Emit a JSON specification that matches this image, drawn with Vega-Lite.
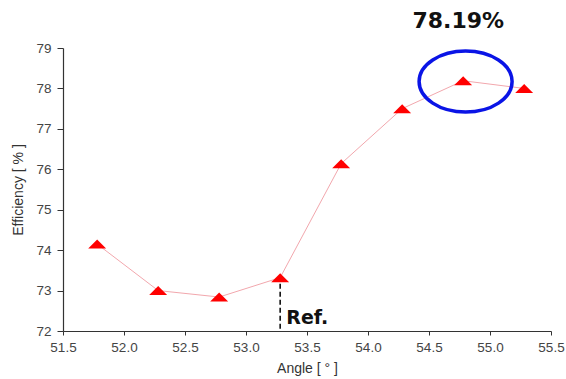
{
  "$schema": "https://vega.github.io/schema/vega-lite/v6.json",
  "autosize": "none",
  "width": 488,
  "height": 283,
  "padding": {"left": 63, "top": 48, "right": 15, "bottom": 48},
  "background": "white",
  "config": {"view": {"stroke": null}, "font": "Liberation Sans"},
  "datasets": {
    "pts": [
      {"angle": 51.78, "eff": 74.15},
      {"angle": 52.28, "eff": 73.0},
      {"angle": 52.78, "eff": 72.84},
      {"angle": 53.28, "eff": 73.32},
      {"angle": 53.78, "eff": 76.14},
      {"angle": 54.28, "eff": 77.5},
      {"angle": 54.78, "eff": 78.19},
      {"angle": 55.28, "eff": 78.0}
    ],
    "refline": [{"angle": 53.28, "y1": 73.17, "y2": 72.0}],
    "reftext": [{"angle": 53.33, "eff": 72.18, "label": "Ref."}],
    "toptext": [{"angle": 54.74, "eff": 79.5, "label": "78.19%"}],
    "circle": [{"angle": 54.8, "eff": 78.17}]
  },
  "layer": [
    {
      "data": {"name": "pts"},
      "mark": {"type": "line", "color": "#f2a7ad", "strokeWidth": 1},
      "encoding": {
        "x": {
          "field": "angle", "type": "quantitative",
          "scale": {"domain": [51.5, 55.5], "nice": false, "zero": false},
          "axis": {
            "title": "Angle [ ° ]",
            "titleFont": "Liberation Sans", "titleFontSize": 14, "titleFontWeight": "normal", "titleColor": "#333",
            "titlePadding": 8,
            "values": [51.5, 51.75, 52, 52.25, 52.5, 52.75, 53, 53.25, 53.5, 53.75, 54, 54.25, 54.5, 54.75, 55, 55.25, 55.5],
            "labelExpr": "(datum.value*2)%1==0 ? format(datum.value,'.1f') : ''",
            "labelFontSize": 13.5, "labelColor": "#444", "labelPadding": 5, "labelOverlap": false, "labelFlush": false,
            "tickSize": {"condition": {"test": "(datum.value*2)%1==0", "value": 4}, "value": 3},
            "tickColor": "#333", "domainColor": "#333", "domainWidth": 1.2, "grid": false
          }
        },
        "y": {
          "field": "eff", "type": "quantitative",
          "scale": {"domain": [72, 79], "nice": false, "zero": false},
          "axis": {
            "title": "Efficiency [ % ]",
            "titleFont": "Liberation Sans", "titleFontSize": 14, "titleFontWeight": "normal", "titleColor": "#333",
            "titlePadding": 10,
            "values": [72, 72.5, 73, 73.5, 74, 74.5, 75, 75.5, 76, 76.5, 77, 77.5, 78, 78.5, 79],
            "labelExpr": "datum.value%1==0 ? format(datum.value,'d') : ''",
            "labelFontSize": 13.5, "labelColor": "#444", "labelPadding": 6, "labelOverlap": false, "labelFlush": false,
            "tickSize": {"condition": {"test": "datum.value%1==0", "value": 6}, "value": 4},
            "tickColor": "#333", "domainColor": "#333", "domainWidth": 1.2, "grid": false
          }
        }
      }
    },
    {
      "data": {"name": "pts"},
      "mark": {"type": "point", "shape": "M 0 -0.5 L 1 0.5 L -1 0.5 Z", "filled": true, "color": "#ff0000", "opacity": 1, "size": 324},
      "encoding": {
        "x": {"field": "angle", "type": "quantitative"},
        "y": {"field": "eff", "type": "quantitative"}
      }
    },
    {
      "data": {"name": "refline"},
      "mark": {"type": "rule", "color": "#000", "strokeWidth": 1.5, "strokeDash": [5, 3]},
      "encoding": {
        "x": {"field": "angle", "type": "quantitative"},
        "y": {"field": "y1", "type": "quantitative"},
        "y2": {"field": "y2"}
      }
    },
    {
      "data": {"name": "reftext"},
      "mark": {"type": "text", "font": "DejaVu Sans", "fontWeight": "bold", "fontSize": 19, "align": "left", "baseline": "alphabetic", "color": "#111"},
      "encoding": {
        "x": {"field": "angle", "type": "quantitative"},
        "y": {"field": "eff", "type": "quantitative"},
        "text": {"field": "label"}
      }
    },
    {
      "data": {"name": "toptext"},
      "mark": {"type": "text", "font": "DejaVu Sans", "fontWeight": "bold", "fontSize": 22, "align": "center", "baseline": "alphabetic", "color": "#111"},
      "encoding": {
        "x": {"field": "angle", "type": "quantitative"},
        "y": {"field": "eff", "type": "quantitative"},
        "text": {"field": "label"}
      }
    },
    {
      "data": {"name": "circle"},
      "mark": {"type": "point", "shape": "M -1 0 A 1 0.656 0 1 0 1 0 A 1 0.656 0 1 0 -1 0 Z", "filled": false, "color": "#0a14e6", "strokeWidth": 3.5, "opacity": 1, "size": 8649},
      "encoding": {
        "x": {"field": "angle", "type": "quantitative"},
        "y": {"field": "eff", "type": "quantitative"}
      }
    }
  ]
}
